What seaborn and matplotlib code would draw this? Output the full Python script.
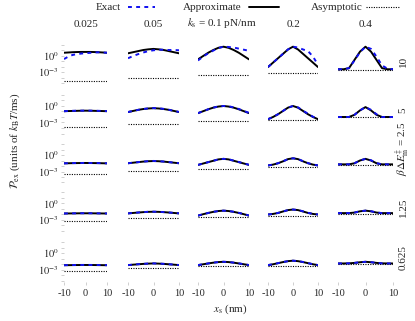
import numpy as np
import pandas as pd
import matplotlib
matplotlib.use("Agg")
import matplotlib.pyplot as plt
import seaborn as sns
from matplotlib.lines import Line2D

# ---------------- data (log10 of P_ex, units of kBT/ms) ----------------
x_nm = [-10, -8, -6, -4, -2, 0, 2, 4, 6, 8, 10]
ks_labels = ["0.025", "0.05", "0.1", "0.2", "0.4"]
barrier_labels = ["10", "5", "2.5", "1.25", "0.625"]

# barrier 10
approx_b10 = [
    [0.50, 0.55, 0.60, 0.63, 0.65, 0.65, 0.65, 0.63, 0.60, 0.55, 0.50],
    [0.40, 0.60, 0.80, 1.00, 1.12, 1.20, 1.12, 1.00, 0.80, 0.60, 0.40],
    [-0.70, -0.10, 0.50, 1.00, 1.40, 1.60, 1.40, 1.00, 0.50, -0.10, -0.70],
    [-2.10, -1.30, -0.50, 0.30, 1.10, 1.60, 1.10, 0.30, -0.50, -1.30, -2.10],
    [-2.50, -2.50, -2.30, -0.80, 0.70, 1.60, 0.70, -0.80, -2.30, -2.50, -2.50],
]
exact_b10 = [
    [-0.65, -0.20, 0.10, 0.25, 0.35, 0.42, 0.48, 0.55, 0.58, 0.55, 0.50],
    [-0.50, -0.10, 0.25, 0.55, 0.80, 0.95, 1.05, 1.05, 1.00, 1.00, 0.95],
    [-0.90, -0.20, 0.40, 0.90, 1.35, 1.60, 1.55, 1.45, 1.25, 1.05, 0.85],
    [-2.10, -1.30, -0.50, 0.30, 1.10, 1.60, 1.45, 1.10, 0.80, -0.20, -1.70],
    [-2.50, -2.50, -2.30, -0.90, 0.60, 1.60, 1.20, -0.20, -1.80, -2.40, -2.50],
]
asym_b10 = [-4.6, -4.1, -3.5, -3.1, -2.6]

# barrier 5
approx_b5 = [
    [-0.95, -0.92, -0.90, -0.88, -0.86, -0.85, -0.86, -0.88, -0.90, -0.92, -0.95],
    [-1.10, -0.90, -0.70, -0.55, -0.45, -0.40, -0.45, -0.55, -0.70, -0.90, -1.10],
    [-1.30, -0.95, -0.60, -0.30, -0.10, 0.00, -0.10, -0.30, -0.60, -0.95, -1.30],
    [-2.40, -2.00, -1.50, -0.90, -0.30, 0.00, -0.30, -0.90, -1.50, -2.00, -2.40],
    [-2.00, -2.00, -2.00, -1.60, -0.80, -0.20, -0.80, -1.60, -2.00, -2.00, -2.00],
]
exact_b5 = [
    [-0.95, -0.90, -0.88, -0.86, -0.85, -0.84, -0.85, -0.86, -0.88, -0.90, -0.93],
    [-1.10, -0.90, -0.70, -0.55, -0.43, -0.38, -0.42, -0.52, -0.68, -0.88, -1.08],
    [-1.30, -0.95, -0.60, -0.30, -0.08, 0.00, -0.05, -0.25, -0.55, -0.90, -1.25],
    [-2.40, -2.00, -1.50, -0.90, -0.30, 0.00, -0.25, -0.85, -1.40, -1.95, -2.35],
    [-2.00, -2.00, -2.00, -1.60, -0.80, -0.20, -0.70, -1.50, -2.00, -2.00, -2.00],
]
asym_b5 = [-3.8, -3.3, -2.7, -2.5, -2.05]

# barrier 2.5
approx_b25 = [
    [-1.52, -1.50, -1.48, -1.47, -1.46, -1.45, -1.46, -1.47, -1.48, -1.50, -1.52],
    [-1.50, -1.40, -1.30, -1.20, -1.13, -1.10, -1.13, -1.20, -1.30, -1.40, -1.50],
    [-1.80, -1.55, -1.30, -1.05, -0.80, -0.70, -0.80, -1.05, -1.30, -1.55, -1.80],
    [-1.90, -1.75, -1.50, -1.15, -0.75, -0.60, -0.75, -1.15, -1.50, -1.75, -1.90],
    [-1.70, -1.70, -1.70, -1.50, -1.00, -0.70, -1.00, -1.50, -1.70, -1.70, -1.70],
]
exact_b25 = [
    [-1.52, -1.49, -1.47, -1.46, -1.45, -1.44, -1.45, -1.46, -1.47, -1.49, -1.51],
    [-1.50, -1.40, -1.30, -1.20, -1.12, -1.08, -1.12, -1.19, -1.29, -1.39, -1.49],
    [-1.80, -1.55, -1.30, -1.05, -0.80, -0.70, -0.78, -1.02, -1.28, -1.53, -1.78],
    [-1.90, -1.75, -1.50, -1.15, -0.75, -0.60, -0.72, -1.12, -1.48, -1.73, -1.90],
    [-1.70, -1.70, -1.70, -1.50, -1.00, -0.70, -0.95, -1.48, -1.70, -1.70, -1.70],
]
asym_b25 = [-3.5, -2.9, -2.5, -2.2, -1.75]

# barrier 1.25
approx_b125 = [
    [-1.82, -1.81, -1.80, -1.79, -1.78, -1.78, -1.78, -1.79, -1.80, -1.81, -1.82],
    [-1.80, -1.72, -1.64, -1.57, -1.52, -1.50, -1.52, -1.57, -1.64, -1.72, -1.80],
    [-2.20, -1.95, -1.72, -1.52, -1.37, -1.30, -1.37, -1.52, -1.72, -1.95, -2.20],
    [-2.00, -1.90, -1.72, -1.45, -1.20, -1.10, -1.20, -1.45, -1.72, -1.90, -2.00],
    [-1.75, -1.75, -1.75, -1.65, -1.42, -1.30, -1.42, -1.65, -1.75, -1.75, -1.75],
]
exact_b125 = [
    [-1.82, -1.80, -1.79, -1.78, -1.77, -1.77, -1.77, -1.78, -1.79, -1.80, -1.81],
    [-1.80, -1.72, -1.64, -1.56, -1.51, -1.49, -1.51, -1.56, -1.63, -1.71, -1.79],
    [-2.20, -1.95, -1.72, -1.52, -1.37, -1.30, -1.36, -1.50, -1.70, -1.93, -2.18],
    [-2.00, -1.90, -1.72, -1.45, -1.20, -1.10, -1.18, -1.42, -1.70, -1.89, -2.00],
    [-1.75, -1.75, -1.75, -1.65, -1.42, -1.30, -1.40, -1.63, -1.75, -1.75, -1.75],
]
asym_b125 = [-3.2, -2.7, -2.4, -2.2, -1.85]

# barrier 0.625
approx_b0625 = [
    [-2.22, -2.21, -2.20, -2.19, -2.18, -2.18, -2.18, -2.19, -2.20, -2.21, -2.22],
    [-2.20, -2.12, -2.05, -1.98, -1.93, -1.90, -1.93, -1.98, -2.05, -2.12, -2.20],
    [-2.20, -2.05, -1.90, -1.76, -1.65, -1.60, -1.65, -1.76, -1.90, -2.05, -2.20],
    [-2.20, -2.05, -1.85, -1.65, -1.48, -1.40, -1.48, -1.65, -1.85, -2.05, -2.20],
    [-1.90, -1.90, -1.88, -1.80, -1.68, -1.60, -1.68, -1.80, -1.88, -1.90, -1.90],
]
exact_b0625 = [
    [-2.22, -2.20, -2.19, -2.18, -2.17, -2.17, -2.17, -2.18, -2.19, -2.20, -2.21],
    [-2.20, -2.12, -2.04, -1.97, -1.92, -1.89, -1.92, -1.97, -2.04, -2.11, -2.19],
    [-2.20, -2.05, -1.90, -1.76, -1.65, -1.60, -1.64, -1.75, -1.89, -2.04, -2.19],
    [-2.20, -2.05, -1.85, -1.65, -1.48, -1.40, -1.47, -1.63, -1.84, -2.04, -2.20],
    [-1.90, -1.90, -1.88, -1.80, -1.68, -1.60, -1.67, -1.79, -1.88, -1.90, -1.90],
]
asym_b0625 = [-3.3, -2.8, -2.4, -2.3, -2.0]

approx_rows = [approx_b10, approx_b5, approx_b25, approx_b125, approx_b0625]
exact_rows = [exact_b10, exact_b5, exact_b25, exact_b125, exact_b0625]
asym_rows = [asym_b10, asym_b5, asym_b25, asym_b125, asym_b0625]

# ---------------- style ----------------
sns.set_style("white")
plt.rcParams["font.family"] = ["Liberation Serif", "DejaVu Serif"]
plt.rcParams["mathtext.fontset"] = "stix"

W, H = 415, 321
fig = plt.figure(figsize=(W / 100, H / 100), dpi=100)

col_left = [64, 128, 198, 268, 338]
col_width = [43, 51, 51, 50, 55]
row_zero = [55.5, 106, 155, 203.5, 253]   # pixel y of 10^0
px_dec = 5.5
y_top_dec, y_bot_dec = 2.0, -5.2

blue = "#1010f0"

for r in range(5):
    for c in range(5):
        top = row_zero[r] - y_top_dec * px_dec
        bot = row_zero[r] - y_bot_dec * px_dec
        ax = fig.add_axes([col_left[c] / W, 1 - bot / H, col_width[c] / W, (bot - top) / H])
        df_a = pd.DataFrame({"x": x_nm, "P": np.power(10.0, approx_rows[r][c])})
        df_e = pd.DataFrame({"x": x_nm, "P": np.power(10.0, exact_rows[r][c])})
        df_s = pd.DataFrame({"x": [x_nm[0], x_nm[-1]],
                             "P": np.power(10.0, [asym_rows[r][c]] * 2)})
        sns.lineplot(data=df_s, x="x", y="P", ax=ax, color="black", lw=0.8,
                     linestyle=(0, (1.0, 1.2)))
        sns.lineplot(data=df_a, x="x", y="P", ax=ax, color="black", lw=1.4)
        sns.lineplot(data=df_e, x="x", y="P", ax=ax, color=blue, lw=1.4,
                     linestyle=(0, (2.0, 2.2)))
        ax.set_yscale("log")
        ax.set_ylim(10 ** y_bot_dec, 10 ** y_top_dec)
        ax.set_xlim(-10, 10)
        ax.set_xlabel("")
        ax.set_ylabel("")
        for s in ax.spines.values():
            s.set_visible(False)
        ax.minorticks_off()
        if c == 0:
            ax.set_yticks([10.0 ** k for k in range(-5, 3)])
            ax.set_yticklabels(["" if k not in (0, -3) else f"$10^{{{k}}}$" for k in range(-5, 3)])
            ax.tick_params(axis="y", left=True, length=2, width=0.6, color="#c8c8c8",
                           labelsize=7.5, pad=2)
        else:
            ax.set_yticks([])
        if r == 4:
            ax.set_xticks([-10, 0, 10])
            ax.set_xticklabels(["-10", "0", "10"])
            ax.tick_params(axis="x", bottom=True, length=2.5, width=0.6, color="#c8c8c8",
                           labelsize=7.5, pad=3)
        else:
            ax.set_xticks([])

# legend (manual)
def ftxt(x, y, s, **kw):
    fig.text(x / W, 1 - y / H, s, **kw)

def fline(x0, x1, y, **kw):
    fig.add_artist(Line2D([x0 / W, x1 / W], [1 - y / H, 1 - y / H],
                          transform=fig.transFigure, **kw))

ftxt(121, 7.5, "Exact", ha="right", va="center", fontsize=8)
fline(128, 155, 6.5, color=blue, lw=1.4, linestyle=(0, (2.0, 2.2)))
ftxt(242, 7.5, "Approximate", ha="right", va="center", fontsize=8)
fline(249, 279, 6.5, color="black", lw=1.4)
ftxt(363, 7.5, "Asymptotic", ha="right", va="center", fontsize=8)
fline(366, 400, 6.5, color="black", lw=0.8, linestyle=(0, (1.0, 1.2)))

# column headers
col_centers = [col_left[i] + col_width[i] / 2 for i in range(5)]
for i, lab in enumerate(ks_labels):
    if i == 2:
        ftxt(222, 23.5, r"$k_\mathrm{s}$ = " + lab + " pN/nm", ha="center", va="center", fontsize=8)
    else:
        ftxt(col_centers[i], 24.5, lab, ha="center", va="center", fontsize=8)

# row labels (right)
row_label_y = [61, 110, 149, 207, 258]
for i, lab in enumerate(barrier_labels):
    s = (r"$\beta\Delta E_\mathrm{m}^{\ddagger}$ = " + lab) if i == 2 else lab
    ftxt(403, row_label_y[i], s, ha="center", va="center", rotation=90, fontsize=8)

# axis labels
ftxt(15, 141, r"$\mathcal{P}_\mathrm{ex}$ (units of $k_\mathrm{B}T$/ms)",
     ha="center", va="center", rotation=90, fontsize=8)
ftxt(230, 309, r"$x_\mathrm{s}$ (nm)", ha="center", va="center", fontsize=8)

fig.savefig("out.png", dpi=100)
